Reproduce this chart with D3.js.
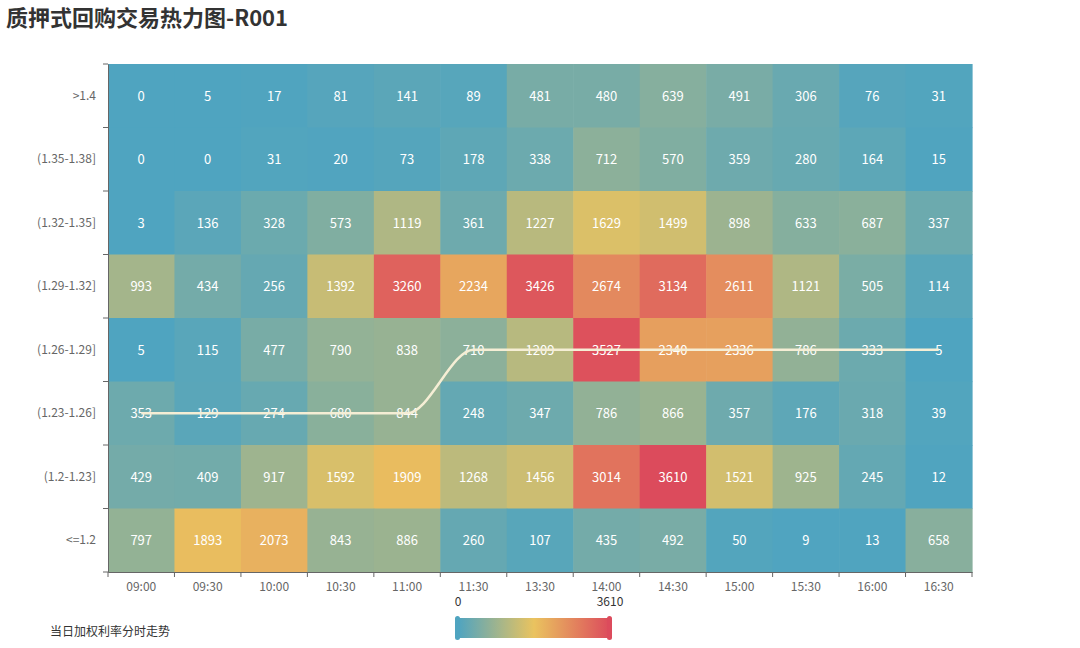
<!DOCTYPE html><html><head><meta charset="utf-8">
<script src="https://cdn.jsdelivr.net/npm/d3@7/dist/d3.min.js"></script>
<style>body{margin:0;background:#fff;font-family:"Microsoft YaHei","Noto Sans CJK SC",sans-serif}</style></head><body>
<svg id="c" width="1080" height="648"></svg>
<script>
const times=["09:00","09:30","10:00","10:30","11:00","11:30","13:30","14:00","14:30","15:00","15:30","16:00","16:30"];
const rates=[">1.4","(1.35-1.38]","(1.32-1.35]","(1.29-1.32]","(1.26-1.29]","(1.23-1.26]","(1.2-1.23]","<=1.2"];
const values=[
[0,5,17,81,141,89,481,480,639,491,306,76,31],
[0,0,31,20,73,178,338,712,570,359,280,164,15],
[3,136,328,573,1119,361,1227,1629,1499,898,633,687,337],
[993,434,256,1392,3260,2234,3426,2674,3134,2611,1121,505,114],
[5,115,477,790,838,710,1209,3527,2340,2336,786,333,5],
[353,129,274,680,844,248,347,786,866,357,176,318,39],
[429,409,917,1592,1909,1268,1456,3014,3610,1521,925,245,12],
[797,1893,2073,843,886,260,107,435,492,50,9,13,658]];
const trendRate=["(1.23-1.26]","(1.23-1.26]","(1.23-1.26]","(1.23-1.26]","(1.23-1.26]","(1.26-1.29]","(1.26-1.29]","(1.26-1.29]","(1.26-1.29]","(1.26-1.29]","(1.26-1.29]","(1.26-1.29]","(1.26-1.29]"];
const vmin=0,vmax=3610;
const colors=["#4fa4c0","#eac35f","#dc4b5c"];
const svg=d3.select("#c");
svg.append("text").attr("x",6).attr("y",26).attr("font-size",22).attr("font-weight","bold").attr("fill","#333").text("质押式回购交易热力图-R001");
const x=d3.scaleBand().domain(times).range([108,972]);
const y=d3.scaleBand().domain(rates).range([64,572]);
const col=d3.scaleLinear().domain([vmin,vmax/2,vmax]).range(colors).interpolate(d3.interpolateRgb);
const cells=[];values.forEach((r,i)=>r.forEach((v,j)=>cells.push({r:rates[i],t:times[j],v})));
const g=svg.append("g");
g.selectAll("rect").data(cells).join("rect").attr("x",d=>x(d.t)).attr("y",d=>y(d.r)).attr("width",x.bandwidth()+0.6).attr("height",y.bandwidth()+0.6).attr("fill",d=>col(d.v));
g.selectAll("text").data(cells).join("text").attr("x",d=>x(d.t)+x.bandwidth()/2).attr("y",d=>y(d.r)+y.bandwidth()/2+5).attr("text-anchor","middle").attr("font-size",13).attr("fill","#fff").text(d=>d.v);
const line=d3.line().x((d,i)=>x(times[i])+x.bandwidth()/2).y(d=>y(d)+y.bandwidth()/2).curve(d3.curveMonotoneX);
svg.append("path").attr("d",line(trendRate)).attr("fill","none").attr("stroke","#f5eed5").attr("stroke-width",2.5);
const ax=svg.append("g").attr("transform","translate(0,572)").call(d3.axisBottom(x).tickSizeOuter(0).tickSizeInner(5));
ax.selectAll(".tick line").attr("transform",`translate(${-x.bandwidth()/2},0)`);
ax.append("line").attr("x1",972).attr("x2",972).attr("y1",0).attr("y2",5).attr("stroke","#666");
const ay=svg.append("g").attr("transform","translate(108,0)").call(d3.axisLeft(y).tickSizeOuter(0).tickSizeInner(5));
ay.selectAll(".tick line").attr("transform",`translate(0,${-y.bandwidth()/2})`);
ay.append("line").attr("x1",0).attr("x2",-5).attr("y1",572).attr("y2",572).attr("stroke","#666");
[ax,ay].forEach(a=>{a.selectAll("path,line").attr("stroke","#666");a.selectAll("text").attr("fill","#666").attr("font-size",12).attr("font-family","Microsoft YaHei, Noto Sans CJK SC, sans-serif");});
ax.attr("font-family",null);ay.attr("font-family",null);
ax.selectAll(".tick text").attr("dy","0.95em");ay.selectAll(".tick text").attr("dx","-4");
const defs=svg.append("defs");const lg=defs.append("linearGradient").attr("id","vg");
d3.range(0,1.01,0.1).forEach(t=>lg.append("stop").attr("offset",t).attr("stop-color",col(vmin+t*(vmax-vmin))));
svg.append("rect").attr("x",458).attr("y",618).attr("width",152).attr("height",20).attr("fill","url(#vg)");
svg.append("rect").attr("x",455).attr("y",616).attr("width",5).attr("height",24).attr("rx",2.5).attr("fill",col(vmin));
svg.append("rect").attr("x",607).attr("y",616).attr("width",5).attr("height",24).attr("rx",2.5).attr("fill",col(vmax));
svg.append("text").attr("x",458).attr("y",606).attr("text-anchor","middle").attr("font-size",12).attr("fill","#333").text(vmin);
svg.append("text").attr("x",610).attr("y",606).attr("text-anchor","middle").attr("font-size",12).attr("fill","#333").text(vmax);
svg.append("text").attr("x",50).attr("y",636).attr("font-size",12).attr("fill","#333").text("当日加权利率分时走势");
</script></body></html>
